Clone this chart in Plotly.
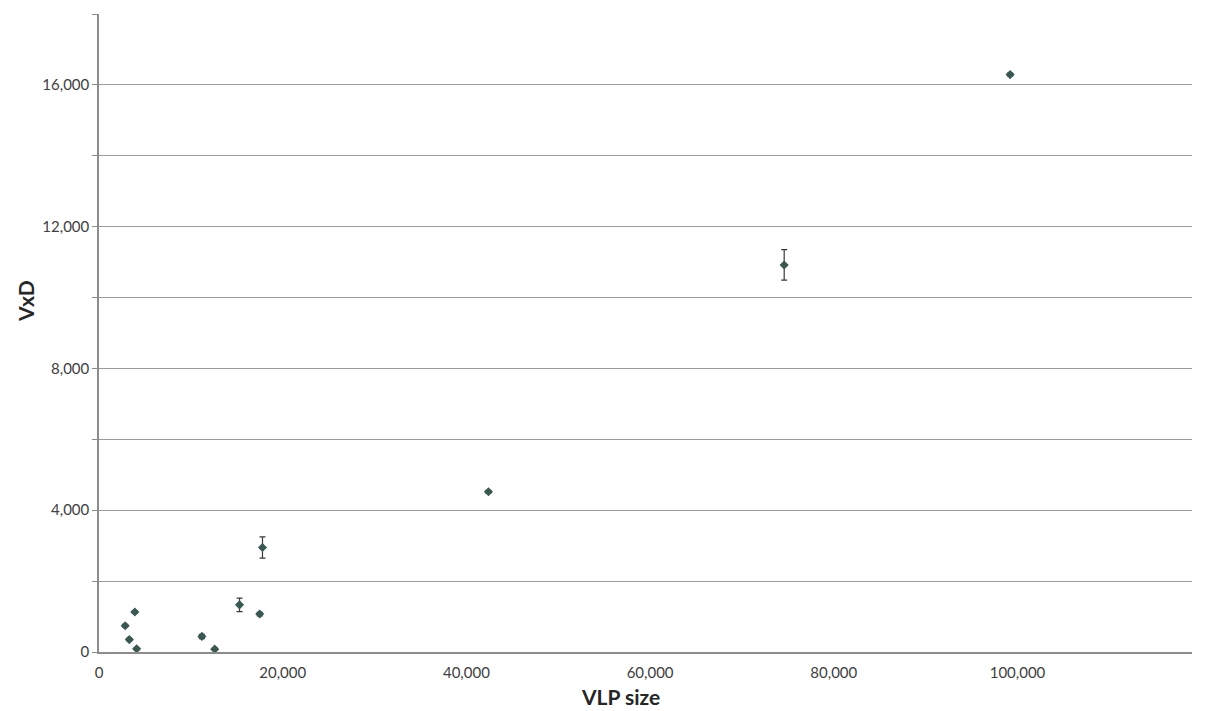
import plotly.graph_objects as go

vlp_size = [3900, 2850, 3300, 4100, 11200, 12600, 15300, 17500, 17800, 42400, 74600, 99200]
vxd = [1130, 740, 350, 90, 440, 80, 1330, 1070, 2950, 4520, 10920, 16290]
vxd_err = [40, 40, 40, 30, 60, 30, 190, 50, 300, 40, 430, 40]

y_tick_vals = [0, 2000, 4000, 6000, 8000, 10000, 12000, 14000, 16000, 18000]
y_tick_text = ["0", "", "4,000", "", "8,000", "", "12,000", "", "16,000", ""]
x_tick_vals = [0, 20000, 40000, 60000, 80000, 100000]
x_tick_text = ["0", "20,000", "40,000", "60,000", "80,000", "100,000"]

fig = go.Figure()
fig.add_trace(go.Scatter(
    x=vlp_size, y=vxd, mode="markers",
    marker=dict(symbol="diamond", size=7, color="#3a5852"),
    error_y=dict(type="data", array=vxd_err, visible=True, color="#3a3a3a",
                 thickness=1.2, width=3),
    showlegend=False,
))

font_family = "Lato, Open Sans, Liberation Sans, sans-serif"
fig.update_layout(
    width=1210, height=703,
    margin=dict(l=91, r=26, t=6, b=59),
    paper_bgcolor="white", plot_bgcolor="white",
    font=dict(family=font_family, color="#404040", size=14),
    xaxis=dict(
        range=[0, 119000], tickvals=x_tick_vals, ticktext=x_tick_text,
        showgrid=False, zeroline=False, showline=True, linecolor="#8c8c8c",
        linewidth=1.5, ticks="", ticklabelstandoff=6,
        tickfont=dict(size=15, color="#404040"),
    ),
    yaxis=dict(
        range=[0, 18000], tickvals=y_tick_vals, ticktext=y_tick_text,
        showgrid=True, gridcolor="#9a9a9a", gridwidth=1.3, zeroline=False,
        showline=True, linecolor="#8c8c8c", linewidth=1.5,
        ticks="outside", ticklen=5, tickcolor="#8c8c8c",
        tickfont=dict(size=15, color="#404040"),
    ),
    annotations=[
        dict(text="<b>VLP size</b>", xref="paper", yref="paper", x=0.4767, y=-0.0705,
             xanchor="center", yanchor="middle", showarrow=False,
             font=dict(size=21, color="#262626")),
        dict(text="<b>VxD</b>", xref="paper", yref="paper", x=-0.0677, y=0.550,
             xanchor="center", yanchor="middle", showarrow=False, textangle=-90,
             font=dict(size=21, color="#262626")),
    ],
)

fig.write_html("out.html")
